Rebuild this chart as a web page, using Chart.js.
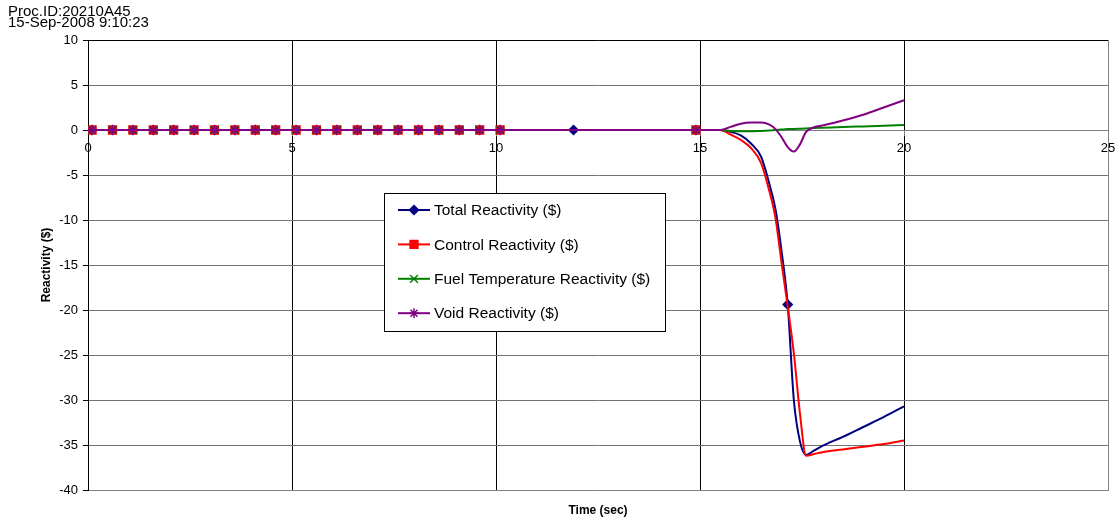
<!DOCTYPE html>
<html>
<head>
<meta charset="utf-8">
<script src="https://cdn.jsdelivr.net/npm/chart.js@4.4.1/dist/chart.umd.min.js"></script>
<style>
  body { margin: 0; background: #fff; }
</style>
</head>
<body>
<canvas id="reactivityChart" width="1119" height="525"></canvas>
<script>
// tempos (s) dos pontos
const time = [0, 0.1, 0.6, 1.1, 1.6, 2.1, 2.6, 3.1, 3.6, 4.1, 4.6, 5.1, 5.6, 6.1, 6.6, 7.1, 7.6, 8.1, 8.6, 9.1, 9.6, 10.1,
  11.9, 14.9,
  15.5, 15.75, 16, 16.25, 16.5, 16.7, 16.85, 17, 17.15, 17.3, 17.45, 17.6, 17.8, 18, 18.5, 19, 19.5, 20];

const totalReactivity = [0, 0, 0, 0, 0, 0, 0, 0, 0, 0, 0, 0, 0, 0, 0, 0, 0, 0, 0, 0, 0, 0,
  0, 0,
  0, -0.2, -0.6, -1.5, -3.0, -6.0, -8.8, -13.5, -19.4, -30.0, -34.6, -36.1, -35.6, -35.1, -34.1, -33.0, -31.9, -30.7];

const controlReactivity = [0, 0, 0, 0, 0, 0, 0, 0, 0, 0, 0, 0, 0, 0, 0, 0, 0, 0, 0, 0, 0, 0,
  0, 0,
  0, -0.5, -1.1, -2.0, -3.7, -6.8, -9.8, -14.8, -19.6, -24.8, -31.5, -36.2, -36.0, -35.8, -35.5, -35.2, -34.9, -34.5];

const fuelTempReactivity = [0, 0, 0, 0, 0, 0, 0, 0, 0, 0, 0, 0, 0, 0, 0, 0, 0, 0, 0, 0, 0, 0,
  0, 0,
  0, -0.1, -0.15, -0.15, -0.1, -0.05, 0, 0.05, 0.1, 0.12, 0.15, 0.18, 0.22, 0.25, 0.33, 0.4, 0.47, 0.55];

const voidReactivity = [0, 0, 0, 0, 0, 0, 0, 0, 0, 0, 0, 0, 0, 0, 0, 0, 0, 0, 0, 0, 0, 0,
  0, 0,
  0, 0.35, 0.7, 0.82, 0.82, 0.6, 0.1, -0.8, -1.9, -2.4, -1.6, -0.2, 0.3, 0.5, 1.05, 1.7, 2.5, 3.3];

// tempos em que o Excel desenhou marcadores
const markerTimes = [0.1, 0.6, 1.1, 1.6, 2.1, 2.6, 3.1, 3.6, 4.1, 4.6, 5.1, 5.6, 6.1, 6.6, 7.1, 7.6, 8.1, 8.6, 9.1, 9.6, 10.1, 14.9];
const totalMarkerTimes = [0.1, 0.6, 1.1, 1.6, 2.1, 2.6, 3.1, 3.6, 4.1, 4.6, 5.1, 5.6, 6.1, 6.6, 7.1, 7.6, 8.1, 8.6, 9.1, 9.6, 10.1, 11.9, 14.9, 17.15];

const seriesLabels = ['Total Reactivity ($)', 'Control Reactivity ($)', 'Fuel Temperature Reactivity ($)', 'Void Reactivity ($)'];
const yTicks = [10, 5, 0, -5, -10, -15, -20, -25, -30, -35, -40];
const xTicks = [0, 5, 10, 15, 20, 25];

const headerLines = ['Proc.ID:20210A45', '15-Sep-2008 9:10:23'];

Chart.defaults.font.family = "'Liberation Sans', Arial, sans-serif";
Chart.defaults.color = '#000';

function makeSeries(label, values, color, style, radius, marks, order) {
  return {
    label: label,
    data: time.map((t, i) => ({ x: t, y: values[i] })),
    borderColor: color,
    backgroundColor: color,
    borderWidth: 2,
    pointStyle: style,
    markerRadius: radius,
    pointRadius: ctx => marks.includes(time[ctx.dataIndex]) ? radius : 0,
    pointHoverRadius: 0,
    pointBorderWidth: 1.5,
    cubicInterpolationMode: 'monotone',
    xAxisID: 'x',
    yAxisID: 'y',
    order: order
  };
}

// legenda desenhada dentro da área do gráfico
const legendBox = {
  id: 'legendBox',
  afterDraw(chart) {
    const { ctx, chartArea: a } = chart;
    const left = Math.round(a.left + 296), top = Math.round(a.top + 153);
    const w = 281, h = 138;
    ctx.save();
    ctx.fillStyle = '#fff';
    ctx.fillRect(left, top, w, h);
    ctx.strokeStyle = '#000';
    ctx.lineWidth = 1;
    ctx.strokeRect(left + 0.5, top + 0.5, w, h);
    ctx.font = "15.5px 'Liberation Sans', Arial, sans-serif";
    ctx.textBaseline = 'middle';
    chart.data.datasets.forEach((ds, i) => {
      const y = top + 17 + i * 34.4;
      ctx.strokeStyle = ds.borderColor;
      ctx.fillStyle = ds.backgroundColor;
      ctx.lineWidth = 2;
      ctx.beginPath();
      ctx.moveTo(left + 14, y);
      ctx.lineTo(left + 46, y);
      ctx.stroke();
      ctx.lineWidth = 1.5;
      Chart.helpers.drawPoint(ctx, { pointStyle: ds.pointStyle, radius: ds.markerRadius, rotation: 0, borderWidth: 1.5 }, left + 30, y);
      ctx.fillStyle = '#000';
      ctx.fillText(ds.label, left + 50, y + 1);
    });
    ctx.restore();
  }
};

const ctx = document.getElementById('reactivityChart').getContext('2d');
new Chart(ctx, {
  type: 'line',
  data: {
    datasets: [
      makeSeries(seriesLabels[0], totalReactivity, '#000080', 'rectRot', 4.5, totalMarkerTimes, 3),
      makeSeries(seriesLabels[1], controlReactivity, '#FF0000', 'rect', 5.5, markerTimes, 2),
      makeSeries(seriesLabels[2], fuelTempReactivity, '#008000', 'crossRot', 5.5, markerTimes, 1),
      makeSeries(seriesLabels[3], voidReactivity, '#800080', 'star', 5, markerTimes, 0)
    ]
  },
  options: {
    responsive: false,
    animation: false,
    events: [],
    layout: { padding: { left: 8, right: 11, top: 0, bottom: 0 } },
    plugins: {
      legend: { display: false },
      tooltip: { enabled: false },
      title: {
        display: true,
        text: headerLines,
        align: 'start',
        color: '#000',
        font: { size: 15, weight: 'normal', lineHeight: '11px' },
        padding: { top: 6, bottom: 12 }
      }
    },
    scales: {
      x: {
        type: 'linear',
        position: 'bottom',
        min: 0,
        max: 25,
        afterBuildTicks: s => { s.ticks = xTicks.map(v => ({ value: v })); },
        afterFit: s => { s.height = 35; s.paddingLeft = 0; s.paddingRight = 0; },
        ticks: { display: false },
        grid: {
          drawTicks: false,
          color: c => c.tick && c.tick.value === 25 ? '#808080' : '#000',
          lineWidth: 1
        },
        border: { display: true, color: '#808080' },
        title: {
          display: true,
          text: 'Time (sec)',
          font: { size: 12, weight: 'bold' },
          padding: { top: 0, bottom: 6.8 }
        }
      },
      x2: {
        type: 'linear',
        axis: 'x',
        position: { y: 0 },
        min: 0,
        max: 25,
        afterBuildTicks: s => { s.ticks = xTicks.map(v => ({ value: v })); },
        afterFit: s => { s.paddingLeft = 0; s.paddingRight = 0; },
        ticks: { font: { size: 13 }, padding: 6, maxRotation: 0 },
        grid: { drawOnChartArea: false, drawTicks: true, tickLength: 5, tickColor: '#808080' },
        border: { display: true, color: '#808080' }
      },
      y: {
        type: 'linear',
        position: 'left',
        min: -40,
        max: 10,
        afterBuildTicks: s => { s.ticks = yTicks.map(v => ({ value: v })); },
        afterFit: s => { s.width = 80; },
        ticks: { font: { size: 13 }, padding: 5 },
        grid: {
          color: c => c.tick && c.tick.value === 10 ? '#000' : '#737373',
          tickColor: '#000',
          tickLength: 5,
          lineWidth: 1
        },
        border: { display: true, color: '#000' },
        title: {
          display: true,
          text: 'Reactivity ($)',
          font: { size: 12, weight: 'bold' },
          padding: { top: 31.8, bottom: 0 }
        }
      }
    }
  },
  plugins: [legendBox]
});
</script>
</body>
</html>
